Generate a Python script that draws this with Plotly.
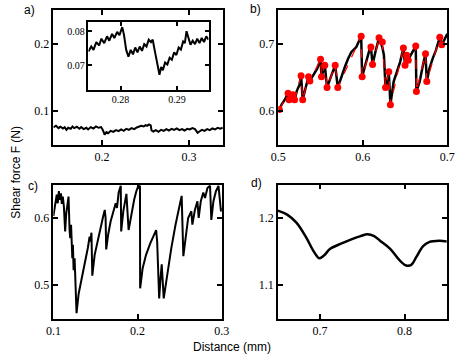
import plotly.graph_objects as go

# ---------------- data ----------------
# panel a (main)
a_x = [0.144,0.147,0.150,0.152,0.155,0.157,0.159,0.161,0.164,0.166,0.168,0.171,0.174,0.176,0.179,0.182,0.184,0.187,0.190,0.193,0.196,0.199,0.201,0.203,0.205,0.207,0.210,0.213,0.216,0.219,0.222,0.225,0.228,0.231,0.234,0.237,0.240,0.243,0.245,0.248,0.250,0.252,0.254,0.256,0.257,0.259,0.262,0.265,0.268,0.271,0.274,0.277,0.280,0.283,0.286,0.289,0.292,0.295,0.298,0.301,0.304,0.307,0.310,0.312,0.315,0.318,0.321,0.324,0.327,0.330,0.333,0.336,0.339]
a_y = [0.0760,0.0785,0.0750,0.0770,0.0745,0.0765,0.0725,0.0755,0.0740,0.0775,0.0750,0.0770,0.0740,0.0765,0.0735,0.0755,0.0730,0.0765,0.0745,0.0775,0.0755,0.0765,0.0720,0.0655,0.0690,0.0675,0.0710,0.0695,0.0720,0.0705,0.0730,0.0710,0.0740,0.0725,0.0750,0.0735,0.0760,0.0770,0.0785,0.0775,0.0795,0.0785,0.0805,0.0790,0.0715,0.0700,0.0720,0.0695,0.0725,0.0710,0.0735,0.0715,0.0740,0.0725,0.0745,0.0720,0.0735,0.0715,0.0740,0.0730,0.0750,0.0735,0.0680,0.0700,0.0725,0.0710,0.0735,0.0720,0.0745,0.0730,0.0755,0.0740,0.0755]

# panel a (inset)
ins_x = [0.2743,0.2748,0.2752,0.2757,0.2762,0.2766,0.2771,0.2776,0.2780,0.2785,0.2789,0.2794,0.2798,0.2803,0.2806,0.2810,0.2814,0.2818,0.2822,0.2826,0.2830,0.2834,0.2838,0.2842,0.2846,0.2850,0.2854,0.2857,0.2861,0.2864,0.2867,0.2869,0.2872,0.2875,0.2879,0.2883,0.2887,0.2891,0.2895,0.2899,0.2903,0.2907,0.2911,0.2914,0.2917,0.2920,0.2924,0.2928,0.2932,0.2936,0.2940,0.2944,0.2948,0.2952,0.2956]
ins_y = [0.0740,0.0755,0.0745,0.0768,0.0758,0.0778,0.0765,0.0785,0.0772,0.0792,0.0780,0.0798,0.0788,0.0812,0.0790,0.0745,0.0725,0.0745,0.0732,0.0752,0.0738,0.0755,0.0742,0.0762,0.0755,0.0775,0.0768,0.0775,0.0740,0.0712,0.0690,0.0672,0.0695,0.0685,0.0708,0.0702,0.0722,0.0716,0.0738,0.0730,0.0752,0.0746,0.0770,0.0765,0.0800,0.0785,0.0760,0.0772,0.0762,0.0778,0.0765,0.0780,0.0768,0.0785,0.0775]

# panel b (measured + model points)
b_x = [0.50115,0.50385,0.50769,0.51154,0.51269,0.51538,0.51731,0.51923,0.52192,0.525,0.52692,0.52885,0.53269,0.53577,0.53731,0.54231,0.54615,0.55,0.55115,0.555,0.55769,0.56154,0.56538,0.56731,0.57038,0.575,0.57885,0.58269,0.58654,0.59231,0.59615,0.59808,0.59923,0.60385,0.60769,0.60962,0.61154,0.61538,0.61923,0.62115,0.62308,0.625,0.62692,0.62885,0.63077,0.63269,0.63654,0.64038,0.64423,0.64808,0.65,0.65192,0.65385,0.65654,0.65962,0.66269,0.66346,0.66731,0.67115,0.67423,0.67577,0.67885,0.68269,0.68654,0.69115,0.69346,0.69615,0.7]
b_y = [0.60244,0.60976,0.61707,0.62683,0.61707,0.61951,0.62439,0.61707,0.63024,0.63902,0.65268,0.61707,0.63659,0.65122,0.64488,0.6561,0.66341,0.67707,0.65122,0.66829,0.63512,0.64878,0.66098,0.66829,0.63512,0.65366,0.66585,0.67805,0.6878,0.69512,0.70488,0.71122,0.65122,0.67317,0.69024,0.69512,0.66927,0.69024,0.70878,0.70244,0.69512,0.68293,0.63512,0.64146,0.65854,0.60976,0.6439,0.65854,0.67317,0.69366,0.66829,0.68293,0.67561,0.68293,0.69024,0.69659,0.62927,0.6439,0.66829,0.68537,0.6439,0.66341,0.67805,0.69024,0.70976,0.69854,0.70488,0.71463]
bm_x = [0.50115,0.51154,0.51269,0.51538,0.51731,0.51923,0.52692,0.52885,0.53577,0.53731,0.55,0.55115,0.555,0.55769,0.56731,0.57038,0.59808,0.59923,0.60962,0.61154,0.61923,0.62308,0.62692,0.63077,0.63269,0.64808,0.65,0.65192,0.65385,0.66269,0.66346,0.67423,0.67577,0.69115,0.69346]
bm_y = [0.60244,0.62683,0.61707,0.6195,0.62439,0.61707,0.65268,0.61707,0.65122,0.64488,0.67707,0.65122,0.66829,0.63512,0.66829,0.63512,0.71122,0.65122,0.69512,0.66927,0.70878,0.70244,0.63512,0.65854,0.60976,0.69366,0.66829,0.68293,0.67561,0.69659,0.62927,0.68537,0.6439,0.70976,0.69854]

# panel c
c_x = [0.1000,0.1025,0.1040,0.1052,0.1065,0.1077,0.1090,0.1100,0.1112,0.1125,0.1140,0.1152,0.1165,0.1180,0.1192,0.1200,0.1210,0.1218,0.1225,0.1232,0.1240,0.1252,0.1262,0.1275,0.1300,0.1340,0.1380,0.1410,0.1430,0.1440,0.1452,0.1462,0.1490,0.1530,0.1560,0.1590,0.1610,0.1620,0.1627,0.1650,0.1680,0.1710,0.1740,0.1755,0.1775,0.1800,0.1805,0.1830,0.1867,0.1893,0.1930,0.1960,0.1985,0.2008,0.2028,0.2030,0.2060,0.2100,0.2150,0.2190,0.2220,0.2232,0.2256,0.2272,0.2286,0.2310,0.2350,0.2400,0.2450,0.2490,0.2523,0.2543,0.2570,0.2600,0.2638,0.2650,0.2680,0.2710,0.2725,0.2750,0.2780,0.2800,0.2830,0.2860,0.2875,0.2900,0.2930,0.2960,0.2990,0.3000]
c_y = [0.603,0.620,0.635,0.622,0.640,0.627,0.637,0.621,0.632,0.617,0.580,0.606,0.618,0.632,0.583,0.570,0.590,0.556,0.540,0.560,0.522,0.540,0.500,0.458,0.487,0.512,0.535,0.556,0.572,0.565,0.578,0.514,0.545,0.570,0.588,0.602,0.612,0.600,0.553,0.575,0.595,0.610,0.622,0.615,0.638,0.648,0.580,0.610,0.636,0.582,0.610,0.628,0.640,0.648,0.647,0.495,0.525,0.545,0.562,0.575,0.582,0.565,0.480,0.510,0.531,0.480,0.515,0.555,0.590,0.615,0.633,0.543,0.575,0.600,0.610,0.590,0.612,0.625,0.600,0.625,0.638,0.630,0.645,0.648,0.597,0.625,0.640,0.648,0.610,0.615]

# panel d
d_x = [0.650,0.661,0.672,0.6835,0.693,0.699,0.7046,0.712,0.7255,0.737,0.748,0.756,0.764,0.771,0.783,0.794,0.802,0.808,0.814,0.822,0.829,0.841,0.850]
d_y = [1.211,1.205,1.193,1.171,1.149,1.140,1.144,1.154,1.162,1.168,1.173,1.1756,1.173,1.166,1.154,1.137,1.129,1.130,1.142,1.158,1.164,1.166,1.165]

# ---------------- figure ----------------
W, H = 463, 356
def dx(p0, p1):
    return [p0 / W, p1 / W]
def dy(p_top, p_bot):
    return [1 - p_bot / H, 1 - p_top / H]

fig = go.Figure()
fig.add_trace(go.Scatter(x=a_x, y=a_y, mode="lines", line=dict(color="black", width=2), xaxis="x", yaxis="y"))
fig.add_trace(go.Scatter(x=ins_x, y=ins_y, mode="lines", line=dict(color="black", width=2), xaxis="x5", yaxis="y5"))
fig.add_trace(go.Scatter(x=b_x, y=b_y, mode="lines", line=dict(color="black", width=2.5), xaxis="x2", yaxis="y2"))
fig.add_trace(go.Scatter(x=bm_x, y=bm_y, mode="lines+markers", line=dict(color="red", width=1.2, dash="dash"),
                         marker=dict(color="red", size=7), xaxis="x2", yaxis="y2"))
fig.add_trace(go.Scatter(x=c_x, y=c_y, mode="lines", line=dict(color="black", width=2), xaxis="x3", yaxis="y3"))
fig.add_trace(go.Scatter(x=d_x, y=d_y, mode="lines", line=dict(color="black", width=2.5, shape="spline"), xaxis="x4", yaxis="y4"))

serif = dict(family="Liberation Serif", size=12, color="black")
def ax(domain, rng, tv, anchor, font=serif, ticklen=5):
    return dict(domain=domain, range=rng, tickvals=tv, ticktext=[str(v) for v in tv], anchor=anchor,
                showline=True, linecolor="black", linewidth=1.5, mirror="ticks", ticks="inside",
                ticklen=ticklen, tickwidth=1.5, tickcolor="black", showgrid=False, zeroline=False,
                tickfont=font)

ya_dom = dy(10, 145)
yc_dom = dy(184.5, 318.5)
small = dict(family="Liberation Serif", size=10, color="black")
fig.update_layout(
    width=W, height=H, margin=dict(l=0, r=0, t=0, b=0), showlegend=False,
    paper_bgcolor="white", plot_bgcolor="white",
    xaxis=ax(dx(47, 222.5), [0.144, 0.339], [0.2, 0.3], "y"),
    yaxis=ax(ya_dom, [0.05, 0.25], [0.1, 0.2], "x"),
    xaxis2=ax(dx(280, 455), [0.5, 0.7], [0.5, 0.6, 0.7], "y2"),
    yaxis2=ax(ya_dom, [0.55, 0.75], [0.6, 0.7], "x2"),
    xaxis3=ax(dx(47, 221.5), [0.1, 0.3], [0.1, 0.2, 0.3], "y3"),
    yaxis3=ax(yc_dom, [0.45, 0.65], [0.5, 0.6], "x3"),
    xaxis4=ax(dx(279.5, 454.5), [0.65, 0.85], [0.7, 0.8], "y4"),
    yaxis4=ax(yc_dom, [1.05, 1.25], [1.1, 1.2], "x4"),
    xaxis5=ax(dx(83.3, 207.7), [0.2743, 0.2956], [0.28, 0.29], "y5", font=small, ticklen=4),
    yaxis5=ax(dy(22, 89.7), [0.0628, 0.0827], [0.07, 0.08], "x5", font=small, ticklen=4),
)

sans = dict(family="Liberation Sans", size=12, color="black")
def ann(text, px, py, angle=0):
    fig.add_annotation(text=text, x=px / W, y=1 - py / H, xref="paper", yref="paper",
                       showarrow=False, font=sans, textangle=angle, xanchor="center", yanchor="middle")
ann("a)", 22, 10)
ann("b)", 256, 9)
ann("c)", 26, 186)
ann("d)", 257, 183)
ann("Shear force F (N)", 8, 172, -90)
ann("Distance (mm)", 232, 347)

fig.write_html("out.html", config={"displayModeBar": False},
               post_script="document.body.style.margin='0';document.body.style.overflow='hidden';")
